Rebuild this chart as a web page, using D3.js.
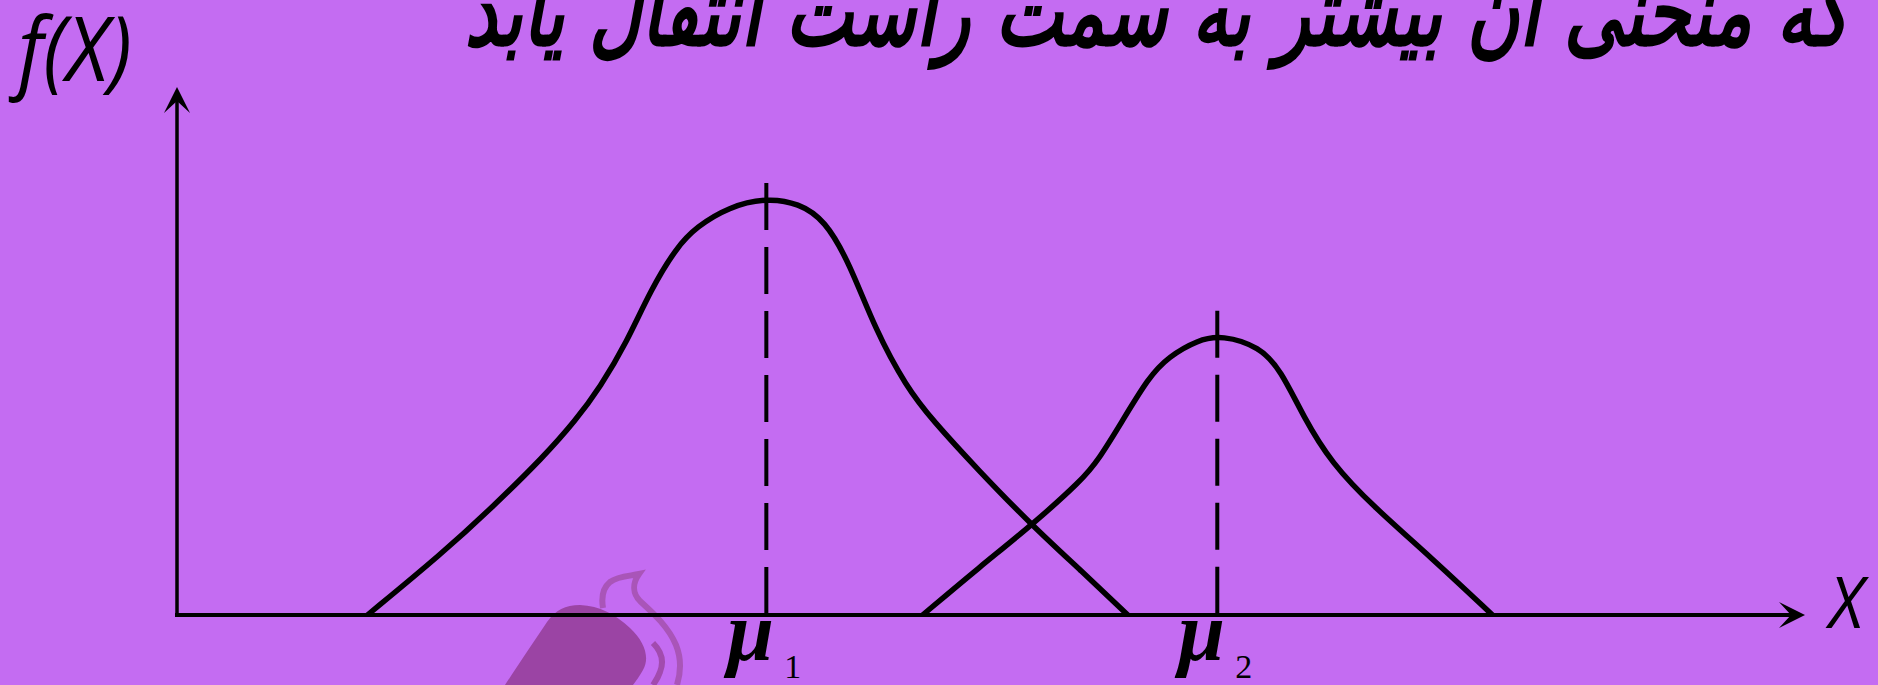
<!DOCTYPE html>
<html>
<head>
<meta charset="utf-8">
<script src="https://cdn.jsdelivr.net/npm/d3@7"></script>
<style>
  html, body { margin: 0; padding: 0; background: #c46cf2; overflow: hidden; }
  svg { display: block; }
</style>
</head>
<body>
<svg id="chart"></svg>
<script>
/*
Data (x axis 0..10, y axis 0..1)
*/

// first curve, mean mu1
const curve1X = [1.17, 1.63, 1.94, 2.25, 2.45, 2.60, 2.76, 2.91, 3.07, 3.19, 3.39, 3.62, 3.82, 3.98, 4.13, 4.29, 4.48, 4.64, 4.92, 5.26, 5.55, 5.84];
const curve1Y = [0, 0.117, 0.205, 0.299, 0.369, 0.432, 0.515, 0.616, 0.697, 0.735, 0.773, 0.790, 0.780, 0.748, 0.667, 0.540, 0.432, 0.369, 0.275, 0.167, 0.085, 0];

// second curve, mean mu2 (shifted to the right)
const curve2X = [4.58, 4.93, 5.25, 5.56, 5.66, 5.80, 5.97, 6.09, 6.27, 6.42, 6.65, 6.78, 6.92, 7.09, 7.35, 7.70, 8.08];
const curve2Y = [0, 0.091, 0.170, 0.256, 0.294, 0.364, 0.451, 0.489, 0.521, 0.530, 0.508, 0.464, 0.375, 0.288, 0.205, 0.110, 0];

// means and the top of their dashed lines
const meanX      = [3.62, 6.39];
const meanTop    = [0.818, 0.576];
const meanLabels = ["μ", "μ"];
const meanSubs   = ["1", "2"];

const titleText = "که منحنی آن بیشتر به سمت راست انتقال یابد";
const yLabel = "f(X)";
const xLabel = "X";

/*
Setup
*/

const width  = 1878;
const height = 685;

const x = d3.scaleLinear().domain([0, 10]).range([177, 1805]);
const y = d3.scaleLinear().domain([0, 1]).range([615, 87]);

const svg = d3.select("#chart")
  .attr("width", width)
  .attr("height", height)
  .attr("viewBox", "0 0 " + width + " " + height);

svg.append("rect")
  .attr("width", width)
  .attr("height", height)
  .attr("fill", "#c46cf2");

// faint watermark at the bottom
const mark = svg.append("g").classed("watermark", true);
mark.append("path")
  .attr("d", "M505,685 C520,662 535,640 547,622 C556,610 565,605 580,605 C600,606 615,614 630,628 C645,642 650,658 643,670 C639,677 636,681 633,685 Z")
  .attr("fill", "#9b44a4");
mark.append("path")
  .attr("d", "M603,608 C601,596 604,587 610,582 C618,576 630,576 639,574 C632,584 633,594 640,601 C652,612 668,626 676,645 C682,660 681,672 677,685")
  .attr("fill", "none")
  .attr("stroke", "#a955b8")
  .attr("stroke-width", 6);
mark.append("path")
  .attr("d", "M653,643 C662,652 664,662 660,672 C658,678 655,682 653,685")
  .attr("fill", "none")
  .attr("stroke", "#a24bae")
  .attr("stroke-width", 6);

/*
Axes with arrow heads
*/

const axes = svg.append("g").classed("axes", true);

axes.append("line")
  .attr("x1", x(0) - 2).attr("y1", y(0))
  .attr("x2", x(10) - 12).attr("y2", y(0))
  .attr("stroke", "#000").attr("stroke-width", 4);

axes.append("line")
  .attr("x1", x(0)).attr("y1", y(0) + 2)
  .attr("x2", x(0)).attr("y2", y(1) + 12)
  .attr("stroke", "#000").attr("stroke-width", 3.5);

// x arrow
axes.append("path")
  .attr("d", d3.line()([[x(10), y(0)], [x(10) - 26, y(0) - 13], [x(10) - 14, y(0)], [x(10) - 26, y(0) + 13]]) + "Z")
  .attr("fill", "#000");

// y arrow
axes.append("path")
  .attr("d", d3.line()([[x(0), y(1)], [x(0) - 13, y(1) + 26], [x(0), y(1) + 14], [x(0) + 13, y(1) + 26]]) + "Z")
  .attr("fill", "#000");

/*
Curves
*/

const line = d3.line()
  .x(d => x(d[0]))
  .y(d => y(d[1]))
  .curve(d3.curveBasis);

const curves = [d3.zip(curve1X, curve1Y), d3.zip(curve2X, curve2Y)];

svg.append("g")
  .classed("curves", true)
  .selectAll("path")
  .data(curves)
  .enter()
  .append("path")
  .attr("d", line)
  .attr("fill", "none")
  .attr("stroke", "#000")
  .attr("stroke-width", 5.5)
  .attr("stroke-linejoin", "round");

/*
Mean lines and labels
*/

const means = d3.range(meanX.length).map(i => ({
  x: meanX[i], top: meanTop[i], label: meanLabels[i], sub: meanSubs[i]
}));

svg.append("g")
  .classed("means", true)
  .selectAll("line")
  .data(means)
  .enter()
  .append("line")
  .attr("x1", d => x(d.x)).attr("x2", d => x(d.x))
  .attr("y1", d => y(d.top)).attr("y2", y(0))
  .attr("stroke", "#000")
  .attr("stroke-width", 4)
  .attr("stroke-dasharray", "47,17");

const labels = svg.append("g").classed("mean-labels", true)
  .selectAll("g")
  .data(means)
  .enter()
  .append("g");

labels.append("text")
  .attr("x", d => x(d.x) - 39)
  .attr("y", 660)
  .attr("font-family", "Liberation Serif, serif")
  .attr("font-style", "italic")
  .attr("font-weight", "bold")
  .attr("font-size", 84)
  .attr("fill", "#000")
  .text(d => d.label);

labels.append("text")
  .attr("x", d => x(d.x) + 18)
  .attr("y", 678)
  .attr("font-family", "Liberation Serif, serif")
  .attr("font-size", 34)
  .attr("fill", "#000")
  .text(d => d.sub);

/*
Texts
*/

svg.append("text")
  .attr("transform", "translate(18,81) scale(0.9,1)")
  .attr("font-family", "Open Sans, sans-serif")
  .attr("font-style", "italic")
  .attr("font-size", 90)
  .attr("fill", "#000")
  .text(yLabel);

svg.append("text")
  .attr("transform", "translate(1829,628) scale(0.92,1)")
  .attr("font-family", "Open Sans, sans-serif")
  .attr("font-style", "italic")
  .attr("font-size", 72)
  .attr("fill", "#000")
  .text(xLabel);

// title, condensed horizontally like the original face
svg.append("text")
  .attr("transform", "translate(1849,45) scale(0.746,1)")
  .attr("direction", "rtl")
  .attr("text-anchor", "start")
  .attr("font-family", "DejaVu Sans, sans-serif")
  .attr("font-style", "italic")
  .attr("font-weight", "bold")
  .attr("font-size", 96)
  .attr("fill", "#000")
  .text(titleText);
</script>
</body>
</html>
